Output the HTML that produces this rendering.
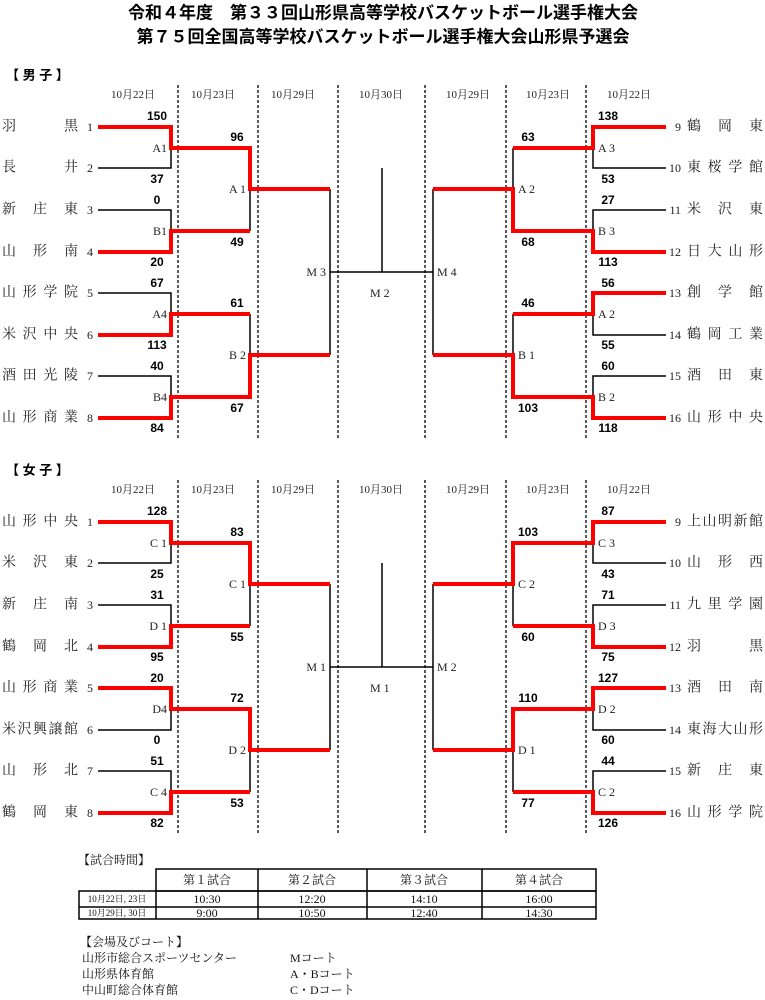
<!DOCTYPE html>
<html><head><meta charset="utf-8"><style>
html,body{margin:0;padding:0;background:#fff;}
svg{display:block;}
.t{font-family:"Liberation Sans","Noto Sans CJK JP",sans-serif;font-weight:bold;font-size:17px;}
.h{font-family:"Liberation Sans","Noto Sans CJK JP",sans-serif;font-weight:bold;font-size:13px;}
.d{font-family:"Liberation Serif","Noto Serif CJK SC",serif;font-size:11px;fill:#222;}
.n{font-family:"Liberation Serif","Noto Serif CJK SC",serif;font-size:14px;fill:#222;}
.s{font-family:"Liberation Sans",sans-serif;font-weight:bold;font-size:12px;}
.l{font-family:"Liberation Serif","Noto Serif CJK SC",serif;font-size:12px;fill:#222;}
.tb{font-family:"Liberation Serif","Noto Serif CJK SC",serif;font-size:12px;fill:#111;}
.r{stroke:#f00;stroke-width:4;fill:none;}
.k{stroke:#000;stroke-width:1.5;fill:none;}
.ds{stroke:#000;stroke-width:1.3;stroke-dasharray:3,2;}
</style></head><body>
<svg width="765" height="1000" viewBox="0 0 765 1000" xmlns="http://www.w3.org/2000/svg" dominant-baseline="central">
<text class="t" x="383" y="13" text-anchor="middle">令和４年度　第３３回山形県高等学校バスケットボール選手権大会</text>
<text class="t" x="383" y="37" text-anchor="middle">第７５回全国高等学校バスケットボール選手権大会山形県予選会</text>

<!-- ===== MEN ===== -->
<text class="h" x="6" y="75">【 男 子 】</text>
<g class="d" text-anchor="middle">
<text x="133" y="95">10月22日</text><text x="213" y="95">10月23日</text><text x="293" y="95">10月29日</text><text x="381" y="95">10月30日</text>
<text x="468" y="95">10月29日</text><text x="548" y="95">10月23日</text><text x="629" y="95">10月22日</text>
</g>
<g class="ds"><line x1="178" y1="85" x2="178" y2="440"/><line x1="258" y1="85" x2="258" y2="440"/><line x1="338" y1="85" x2="338" y2="440"/><line x1="425" y1="85" x2="425" y2="440"/><line x1="506" y1="85" x2="506" y2="440"/><line x1="586" y1="85" x2="586" y2="440"/></g>
<g class="n">
<text x="2" y="127" textLength="76" lengthAdjust="spacing">羽　　黒</text>
<text x="2" y="168" textLength="76" lengthAdjust="spacing">長　　井</text>
<text x="2" y="210" textLength="76" lengthAdjust="spacing">新庄東</text>
<text x="2" y="252" textLength="76" lengthAdjust="spacing">山形南</text>
<text x="2" y="293" textLength="76" lengthAdjust="spacing">山形学院</text>
<text x="2" y="335" textLength="76" lengthAdjust="spacing">米沢中央</text>
<text x="2" y="376" textLength="76" lengthAdjust="spacing">酒田光陵</text>
<text x="2" y="418" textLength="76" lengthAdjust="spacing">山形商業</text>
<text x="687" y="127" textLength="76" lengthAdjust="spacing">鶴岡東</text>
<text x="687" y="168" textLength="76" lengthAdjust="spacing">東桜学館</text>
<text x="687" y="210" textLength="76" lengthAdjust="spacing">米沢東</text>
<text x="687" y="252" textLength="76" lengthAdjust="spacing">日大山形</text>
<text x="687" y="293" textLength="76" lengthAdjust="spacing">創学館</text>
<text x="687" y="335" textLength="76" lengthAdjust="spacing">鶴岡工業</text>
<text x="687" y="376" textLength="76" lengthAdjust="spacing">酒田東</text>
<text x="687" y="418" textLength="76" lengthAdjust="spacing">山形中央</text>
</g>
<g class="l" text-anchor="end">
<text x="93" y="127">1</text><text x="93" y="168">2</text><text x="93" y="210">3</text><text x="93" y="252">4</text><text x="93" y="293">5</text><text x="93" y="335">6</text><text x="93" y="376">7</text><text x="93" y="418">8</text>
<text x="681" y="127">9</text><text x="681" y="168">10</text><text x="681" y="210">11</text><text x="681" y="252">12</text><text x="681" y="293">13</text><text x="681" y="335">14</text><text x="681" y="376">15</text><text x="681" y="418">16</text>
</g>
<!-- men black lines -->
<g class="k">
<path d="M98 168H171V148M98 210H171V231M98 293H171V314M98 376H171V397"/>
<path d="M250 189V231M250 314V355M330 189V355M330 272H433M382 168V272"/>
<path d="M666 168H593V148M666 210H593V231M666 335H593V314M666 376H593V397"/>
<path d="M513 148V189M513 314V355M433 189V355"/>
</g>
<g class="r">
<path d="M98 127H171V148H250V189H330"/>
<path d="M98 252H171V231H250"/>
<path d="M98 335H171V314H250"/>
<path d="M98 418H171V397H250V355H330"/>
<path d="M666 127H593V148H513"/>
<path d="M666 252H593V231H513V189H433"/>
<path d="M666 293H593V314H513"/>
<path d="M666 418H593V397H513V355H433"/>
</g>
<g class="s" text-anchor="middle">
<text x="157" y="116">150</text><text x="157" y="179">37</text>
<text x="157" y="200">0</text><text x="157" y="262">20</text>
<text x="157" y="283">67</text><text x="157" y="345">113</text>
<text x="157" y="366">40</text><text x="157" y="428">84</text>
<text x="237" y="137">96</text><text x="237" y="242">49</text>
<text x="237" y="303">61</text><text x="237" y="408">67</text>
<text x="608" y="116">138</text><text x="608" y="179">53</text>
<text x="608" y="200">27</text><text x="608" y="262">113</text>
<text x="608" y="283">56</text><text x="608" y="345">55</text>
<text x="608" y="366">60</text><text x="608" y="428">118</text>
<text x="528" y="137">63</text><text x="528" y="242">68</text>
<text x="528" y="303">46</text><text x="528" y="408">103</text>
</g>
<g class="l">
<text x="167" y="148" text-anchor="end">A1</text><text x="167" y="231" text-anchor="end">B1</text><text x="167" y="314" text-anchor="end">A4</text><text x="167" y="397" text-anchor="end">B4</text>
<text x="246" y="189" text-anchor="end">A 1</text><text x="246" y="355" text-anchor="end">B 2</text>
<text x="326" y="272" text-anchor="end">M 3</text>
<text x="370" y="293">M 2</text>
<text x="598" y="148">A 3</text><text x="598" y="231">B 3</text><text x="598" y="314">A 2</text><text x="598" y="397">B 2</text>
<text x="518" y="189">A 2</text><text x="518" y="355">B 1</text>
<text x="437" y="272">M 4</text>
</g>

<!-- ===== WOMEN ===== -->
<text class="h" x="6" y="470">【 女 子 】</text>
<g class="d" text-anchor="middle">
<text x="133" y="490">10月22日</text><text x="213" y="490">10月23日</text><text x="293" y="490">10月29日</text><text x="381" y="490">10月30日</text>
<text x="468" y="490">10月29日</text><text x="548" y="490">10月23日</text><text x="629" y="490">10月22日</text>
</g>
<g class="ds"><line x1="178" y1="480" x2="178" y2="835"/><line x1="258" y1="480" x2="258" y2="835"/><line x1="338" y1="480" x2="338" y2="835"/><line x1="425" y1="480" x2="425" y2="835"/><line x1="506" y1="480" x2="506" y2="835"/><line x1="586" y1="480" x2="586" y2="835"/></g>
<g class="n">
<text x="2" y="522" textLength="76" lengthAdjust="spacing">山形中央</text>
<text x="2" y="563" textLength="76" lengthAdjust="spacing">米沢東</text>
<text x="2" y="605" textLength="76" lengthAdjust="spacing">新庄南</text>
<text x="2" y="647" textLength="76" lengthAdjust="spacing">鶴岡北</text>
<text x="2" y="688" textLength="76" lengthAdjust="spacing">山形商業</text>
<text x="2" y="730" textLength="76" lengthAdjust="spacing">米沢興譲館</text>
<text x="2" y="771" textLength="76" lengthAdjust="spacing">山形北</text>
<text x="2" y="813" textLength="76" lengthAdjust="spacing">鶴岡東</text>
<text x="687" y="522" textLength="76" lengthAdjust="spacing">上山明新館</text>
<text x="687" y="563" textLength="76" lengthAdjust="spacing">山形西</text>
<text x="687" y="605" textLength="76" lengthAdjust="spacing">九里学園</text>
<text x="687" y="647" textLength="76" lengthAdjust="spacing">羽　　黒</text>
<text x="687" y="688" textLength="76" lengthAdjust="spacing">酒田南</text>
<text x="687" y="730" textLength="76" lengthAdjust="spacing">東海大山形</text>
<text x="687" y="771" textLength="76" lengthAdjust="spacing">新庄東</text>
<text x="687" y="813" textLength="76" lengthAdjust="spacing">山形学院</text>
</g>
<g class="l" text-anchor="end">
<text x="93" y="522">1</text><text x="93" y="563">2</text><text x="93" y="605">3</text><text x="93" y="647">4</text><text x="93" y="688">5</text><text x="93" y="730">6</text><text x="93" y="771">7</text><text x="93" y="813">8</text>
<text x="681" y="522">9</text><text x="681" y="563">10</text><text x="681" y="605">11</text><text x="681" y="647">12</text><text x="681" y="688">13</text><text x="681" y="730">14</text><text x="681" y="771">15</text><text x="681" y="813">16</text>
</g>
<g class="k">
<path d="M98 563H171V543M98 605H171V626M98 730H171V709M98 771H171V792"/>
<path d="M250 584V626M250 750V792M330 584V750M330 667H433M382 563V667"/>
<path d="M666 563H593V543M666 605H593V626M666 730H593V709M666 771H593V792"/>
<path d="M513 584V626M513 750V792M433 584V750"/>
</g>
<g class="r">
<path d="M98 522H171V543H250V584H330"/>
<path d="M98 647H171V626H250"/>
<path d="M98 688H171V709H250V750H330"/>
<path d="M98 813H171V792H250"/>
<path d="M666 522H593V543H513V584H433"/>
<path d="M666 647H593V626H513"/>
<path d="M666 688H593V709H513V750H433"/>
<path d="M666 813H593V792H513"/>
</g>
<g class="s" text-anchor="middle">
<text x="157" y="511">128</text><text x="157" y="574">25</text>
<text x="157" y="595">31</text><text x="157" y="657">95</text>
<text x="157" y="678">20</text><text x="157" y="740">0</text>
<text x="157" y="761">51</text><text x="157" y="823">82</text>
<text x="237" y="532">83</text><text x="237" y="637">55</text>
<text x="237" y="698">72</text><text x="237" y="803">53</text>
<text x="608" y="511">87</text><text x="608" y="574">43</text>
<text x="608" y="595">71</text><text x="608" y="657">75</text>
<text x="608" y="678">127</text><text x="608" y="740">60</text>
<text x="608" y="761">44</text><text x="608" y="823">126</text>
<text x="528" y="532">103</text><text x="528" y="637">60</text>
<text x="528" y="698">110</text><text x="528" y="803">77</text>
</g>
<g class="l">
<text x="167" y="543" text-anchor="end">C 1</text><text x="167" y="626" text-anchor="end">D 1</text><text x="167" y="709" text-anchor="end">D4</text><text x="167" y="792" text-anchor="end">C 4</text>
<text x="246" y="584" text-anchor="end">C 1</text><text x="246" y="750" text-anchor="end">D 2</text>
<text x="326" y="667" text-anchor="end">M 1</text>
<text x="370" y="688">M 1</text>
<text x="598" y="543">C 3</text><text x="598" y="626">D 3</text><text x="598" y="709">D 2</text><text x="598" y="792">C 2</text>
<text x="518" y="584">C 2</text><text x="518" y="750">D 1</text>
<text x="437" y="667">M 2</text>
</g>

<!-- ===== TABLE ===== -->
<text class="tb" x="78" y="860">【試合時間】</text>
<g stroke="#000" stroke-width="1.5" fill="none">
<rect x="156" y="869" width="440" height="22"/>
<rect x="79" y="891" width="517" height="28"/>
<line x1="79" y1="907" x2="596" y2="907"/>
<line x1="156" y1="891" x2="156" y2="919"/>
<line x1="258" y1="869" x2="258" y2="919"/>
<line x1="367" y1="869" x2="367" y2="919"/>
<line x1="482" y1="869" x2="482" y2="919"/>
</g>
<g class="tb" text-anchor="middle">
<text x="207" y="880">第１試合</text><text x="312" y="880">第２試合</text><text x="424" y="880">第３試合</text><text x="539" y="880">第４試合</text>
<text x="117" y="899" style="font-size:9px">10月22日, 23日</text><text x="207" y="899">10:30</text><text x="312" y="899">12:20</text><text x="424" y="899">14:10</text><text x="539" y="899">16:00</text>
<text x="117" y="913" style="font-size:9px">10月29日, 30日</text><text x="207" y="913">9:00</text><text x="312" y="913">10:50</text><text x="424" y="913">12:40</text><text x="539" y="913">14:30</text>
</g>
<g class="tb">
<text x="80" y="942">【会場及びコート】</text>
<text x="82" y="958">山形市総合スポーツセンター</text><text x="290" y="958">Mコート</text>
<text x="82" y="974">山形県体育館</text><text x="290" y="974">A・Bコート</text>
<text x="82" y="990">中山町総合体育館</text><text x="290" y="990">C・Dコート</text>
</g>
</svg>
</body></html>
